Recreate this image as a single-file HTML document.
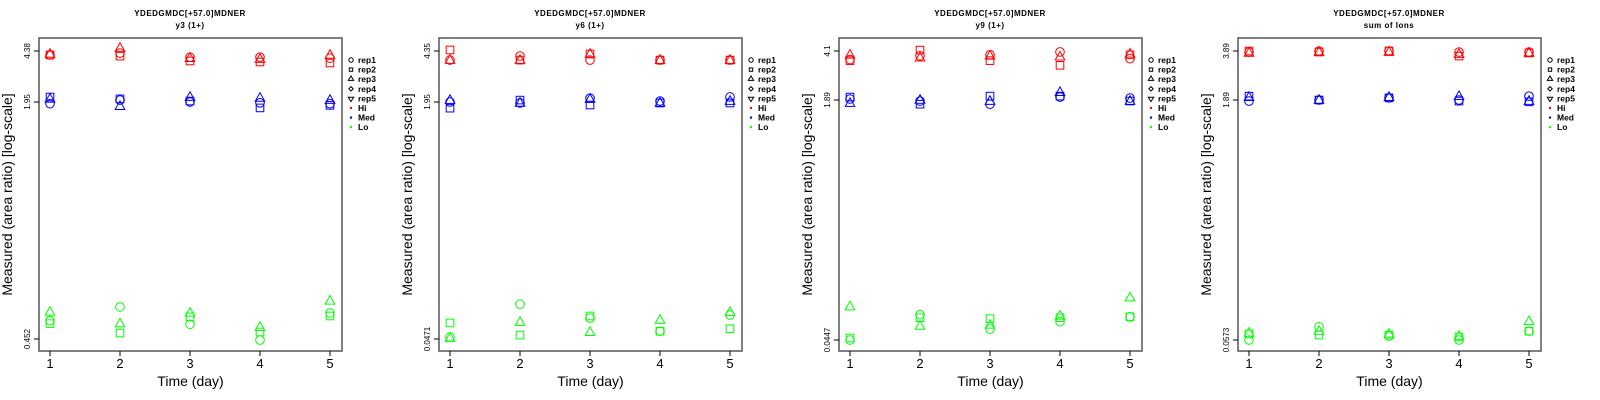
<!DOCTYPE html>
<html><head><meta charset="utf-8"><style>
html,body{margin:0;padding:0;background:#fff;}
svg{display:block;font-family:"Liberation Sans",sans-serif;}
</style></head><body>
<svg id="chart" width="1600" height="400" viewBox="0 0 1600 400" xmlns="http://www.w3.org/2000/svg"></svg>
<script>
const days = [1,2,3,4,5];
const panelTitles = ["y3 (1+)","y6 (1+)","y9 (1+)","sum of Ions"];
const panelTicks = [[4.38,1.95,0.452],[4.35,1.95,0.0471],[4.1,1.89,0.0447],[3.89,1.89,0.0573]];
const groups = ["Hi","Med","Lo"];
const reps = ["rep1","rep2","rep3","rep4","rep5"];
// values [panel][group][rep(1..3)][day]
const p1Hi = [[4.11,4.24,3.97,3.97,3.91],[4.11,4.04,3.74,3.68,3.62],[4.18,4.59,3.91,3.85,4.11]];
const p1Med = [[1.93,2.01,1.95,1.94,1.93],[2.11,2.05,1.98,1.88,1.91],[2.05,1.90,2.11,2.08,2.01]];
const p1Lo = [[0.506,0.551,0.495,0.449,0.531],[0.497,0.469,0.518,0.472,0.521],[0.534,0.497,0.531,0.486,0.572]];
const p2Hi = [[3.77,4.02,3.77,3.77,3.77],[4.42,3.77,4.15,3.77,3.77],[3.77,3.77,4.15,3.77,3.77]];
const p2Med = [[1.95,1.92,2.07,1.98,2.11],[1.77,2.01,1.86,1.92,1.92],[2.01,1.92,2.04,1.92,1.98]];
const p2Lo = [[0.0486,0.0814,0.0654,0.0532,0.0686],[0.0606,0.0501,0.0676,0.0532,0.0553],[0.0478,0.0614,0.0524,0.0634,0.0719]];
const p3Hi = [[3.58,3.80,3.86,4.04,3.63],[3.52,4.16,3.52,3.27,3.86],[3.86,3.69,3.80,3.75,3.92]];
const p3Med = [[1.92,1.86,1.77,1.98,1.95],[1.98,1.77,2.01,2.01,1.86],[1.80,1.89,1.86,2.14,1.86]];
const p3Lo = [[0.0447,0.0663,0.0530,0.0595,0.0642],[0.0461,0.0633,0.0623,0.0633,0.0642],[0.0753,0.0557,0.0566,0.0652,0.0866]];
const p4Hi = [[3.83,3.89,3.89,3.83,3.83],[3.89,3.83,3.89,3.61,3.78],[3.78,3.83,3.83,3.72,3.78]];
const p4Med = [[1.86,1.89,1.95,1.89,2.00],[2.00,1.89,1.95,1.86,1.84],[1.97,1.89,1.97,2.00,1.86]];
const p4Lo = [[0.0573,0.0694,0.0607,0.0573,0.0652],[0.0626,0.0616,0.0616,0.0599,0.0652],[0.0635,0.0652,0.0626,0.0607,0.0753]];
const panelData = [[p1Hi,p1Med,p1Lo],[p2Hi,p2Med,p2Lo],[p3Hi,p3Med,p3Lo],[p4Hi,p4Med,p4Lo]];

const colors = ["#ff0000","#0000ff","#00ff00"];
const NS = "http://www.w3.org/2000/svg";
const svg = document.getElementById("chart");
function mk(tag, attrs, parent, text){
  const e = document.createElementNS(NS, tag);
  for (const k in attrs) e.setAttribute(k, attrs[k]);
  if (text !== undefined) e.textContent = text;
  (parent||svg).appendChild(e);
  return e;
}
const tickY = [[51,102,339],[51,102,339],[51,100,340],[51,100,340]];
function marker(g, shape, cx, cy, r, col){
  let e;
  if (shape===0) e = mk("circle",{cx:cx,cy:cy,r:r,fill:"none",stroke:col,"stroke-width":1},g);
  else if (shape===1) e = mk("rect",{x:cx-r+0.5,y:cy-r+0.5,width:2*r-1,height:2*r-1,fill:"none",stroke:col,"stroke-width":1},g);
  else if (shape===2) e = mk("polygon",{points:`${cx},${cy-r-1} ${cx-r-0.5},${cy+r-1} ${cx+r+0.5},${cy+r-1}`,fill:"none",stroke:col,"stroke-width":1},g);
  else if (shape===3) e = mk("polygon",{points:`${cx},${cy-r} ${cx+r},${cy} ${cx},${cy+r} ${cx-r},${cy}`,fill:"none",stroke:col,"stroke-width":1},g);
  else e = mk("polygon",{points:`${cx},${cy+r+1} ${cx-r-0.5},${cy-r+1} ${cx+r+0.5},${cy-r+1}`,fill:"none",stroke:col,"stroke-width":1},g);
  return e;
}
for (let p=0;p<4;p++){
  const ox = p*400 - (p===3?1:0);
  const L = ox+39, R = ox+342, T = 38, B = 351;
  const x1 = ox+50, x5 = ox+330;
  const xs = d => x1 + (d-1)*(x5-x1)/4;
  const tk = panelTicks[p], ty = tickY[p];
  const ys = v => {
    const lv = Math.log(v);
    if (v >= tk[1]) return ty[1] + (lv-Math.log(tk[1]))/(Math.log(tk[0])-Math.log(tk[1]))*(ty[0]-ty[1]);
    return ty[1] + (lv-Math.log(tk[1]))/(Math.log(tk[2])-Math.log(tk[1]))*(ty[2]-ty[1]);
  };
  const g = mk("g",{});
  
  
  const t1 = mk("text",{x:ox+190,y:16,"text-anchor":"middle","font-size":8,"font-weight":"bold","letter-spacing":"0.5"},g,"YDEDGMDC[+57.0]MDNER");
  
  
  const t2 = mk("text",{x:ox+190,y:28,"text-anchor":"middle","font-size":8,"font-weight":"bold","letter-spacing":"0.5"},g,panelTitles[p]);
  
  
  const box = mk("rect",{x:L,y:T,width:R-L,height:B-T,fill:"none",stroke:"#555","stroke-width":1.5},g);
  
  
  for (let i=0;i<3;i++){
    const y = ys(tk[i]);
    mk("line",{x1:L-5,x2:L,y1:y,y2:y,stroke:"#000","stroke-width":1},g);
    const lab = mk("text",{x:0,y:0,transform:`translate(${ox+30},${y}) rotate(-90)`,"text-anchor":"middle","font-size":8},g,String(tk[i]));
    
    
  }
  days.forEach(d=>{
    const x = xs(d);
    mk("line",{x1:x,x2:x,y1:B,y2:B+5,stroke:"#000","stroke-width":1},g);
    const lab = mk("text",{x:x,y:368,"text-anchor":"middle","font-size":13},g,String(d));
    
    
  });
  const xt = mk("text",{x:(L+R)/2,y:386,"text-anchor":"middle","font-size":14},g,"Time (day)");
  
  
  const yt = mk("text",{x:0,y:0,transform:`translate(${ox+12},${(T+B)/2}) rotate(-90)`,"text-anchor":"middle","font-size":14},g,"Measured (area ratio) [log-scale]");
  
  
  const series = panelData[p];
  for (let gi=0;gi<3;gi++){
    for (let r=0;r<series[gi].length;r++){
      series[gi][r].forEach((v,di)=>{
        const m = marker(g, r, xs(days[di]), ys(v), 4.3, colors[gi]);
        
        
      });
    }
  }
  // legend
  const lg = mk("g",{},g);
  
  
  const lx = ox+351;
  const labels = reps.concat(groups);
  labels.forEach((lab,i)=>{
    const y = 60 + i*9.6;
    if (i<5) marker(lg, i, lx, y, 2.2, "#000");
    else mk("circle",{cx:lx,cy:y,r:1.2,fill:colors[i-5]},lg);
    const te = mk("text",{x:lx+7,y:y+3,"font-size":8.5,"font-weight":"bold"},lg,lab);
    
    
  });
}
</script>
</body></html>
